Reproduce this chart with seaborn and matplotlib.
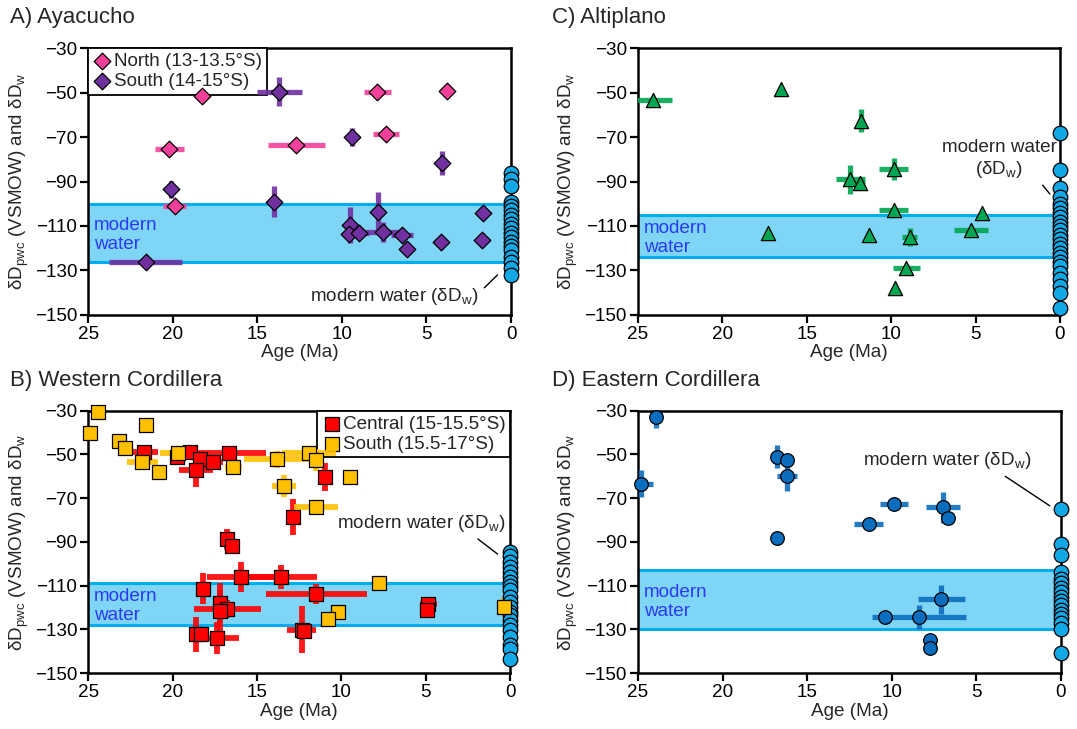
import matplotlib
matplotlib.use('Agg')

import numpy as np
import pandas as pd
import matplotlib.pyplot as plt
import seaborn as sns

# -------------------------------
# Data
# -------------------------------
# A) Ayacucho
a_north_age = [18.3, 20.2, 19.9, 12.7, 7.9, 3.8, 7.4]
a_north_dd = [-51.4, -75.4, -100.9, -73.6, -49.8, -49.3, -68.7]
a_north_xerr = [0.3, 0.85, 0.7, 1.7, 0.8, 0, 0.75]
a_north_yerr = [1.5, 0, 0, 0, 0, 0, 0]

a_south_age = [13.7, 20.1, 14.0, 21.6, 9.4, 4.1, 7.85, 9.5, 9.57, 9.0, 7.55, 6.47, 6.17, 4.16, 1.64, 1.7]
a_south_dd = [-49.6, -93.5, -99.1, -126.0, -69.9, -81.5, -103.8, -109.6, -113.6, -113.0, -112.5, -114.0, -120.3, -117.0, -104.3, -116.3]
a_south_xerr = [1.35, 0, 0, 2.15, 0, 0, 0, 0, 0, 0.6, 1.3, 0.65, 0, 0, 0, 0]
a_south_yerr = [6.4, 3.9, 6.9, 0, 4.0, 5.4, 9.0, 8.2, 0, 0, 4.5, 0, 0, 0, 0, 0]

a_water = [-86, -89, -92, -99, -101, -103, -105, -107, -109, -111, -113, -115, -117, -119, -121, -124, -126, -129, -132]
a_band = (-126, -100)

# B) Western Cordillera
b_central_age = [21.7, 19.0, 19.76, 18.4, 17.6, 16.66, 18.6, 10.97, 12.9, 16.76, 16.5, 15.95, 13.6, 18.2, 11.5,
                 17.2, 16.76, 17.2, 18.6, 18.3, 17.35, 12.35, 12.2, 4.85, 4.94]
b_central_dd = [-48.8, -48.8, -51.0, -52.3, -53.6, -49.5, -57.2, -60.2, -78.6, -88.9, -92.0, -106.0, -106.0, -111.4, -114.0,
                -117.8, -120.8, -121.8, -132.3, -132.3, -134.0, -130.1, -131.0, -118.2, -121.3]
b_central_xerr = [0.8, 0, 0, 0, 0.6, 2.2, 1.0, 0, 0, 0, 0, 2.0, 2.15, 0, 3.0,
                  0, 2.0, 0, 0, 0, 1.3, 0.85, 0, 0.5, 0]
b_central_yerr = [3, 0, 3, 0, 0, 3, 7.6, 6.5, 8.4, 5.0, 0, 7.0, 5.6, 7.0, 4.6,
                  8.8, 4, 10, 8, 0, 7.3, 10.7, 0, 2, 0]

b_south_age = [24.4, 24.9, 21.6, 23.2, 22.8, 21.8, 20.8, 19.7, 16.4, 13.8, 11.9, 11.5, 9.5, 13.4, 11.5, 7.75, 10.2, 10.77, 0.4]
b_south_dd = [-30.5, -40.4, -36.5, -43.7, -47.2, -53.6, -58.2, -49.2, -55.6, -52.3, -49.3, -52.5, -60.2, -64.5, -74.0,
              -108.6, -122.0, -125.4, -119.8]
b_south_xerr = [0, 0, 0, 0, 0, 0.9, 0, 1.05, 0.5, 2.0, 1.6, 0, 0, 0.7, 1.3, 0, 0, 0, 0]
b_south_yerr = [0, 0, 0, 0, 0, 2, 0, 0, 0, 4, 0, 5, 0, 5, 0, 0, 0, 3, 4]

b_water = [-94.6, -96.5, -99.2, -101.5, -103.8, -106, -108.4, -110, -112.1, -115.2, -117.5, -119.8, -122, -123.6,
           -125.9, -128.2, -130.5, -133.6, -137.3, -138.9, -143.4]
b_band = (-128, -109)

# C) Altiplano
c_age = [24.1, 16.55, 17.28, 11.79, 12.42, 11.83, 9.86, 9.86, 11.29, 8.91, 4.6, 5.28, 9.1, 9.76]
c_dd = [-53.3, -48.3, -113.3, -62.6, -89.0, -90.8, -84.5, -102.8, -114.0, -114.9, -104.0, -111.8, -129.0, -137.8]
c_xerr = [1.1, 0, 0, 0, 0.85, 0.3, 0.85, 0.85, 0, 0.45, 0, 1.0, 0.8, 0]
c_yerr = [0, 0, 0, 5.3, 6.4, 3.0, 4.9, 0, 0, 4.0, 0, 0, 0, 0]

c_water = [-68, -85, -93, -97, -100, -102, -104, -106, -108, -110, -112, -114, -116, -118, -120, -122, -124,
           -126, -128, -131, -134, -137, -140, -147]
c_band = (-124, -105)

# D) Eastern Cordillera
d_age = [23.96, 24.8, 16.8, 16.2, 16.2, 16.8, 9.86, 11.36, 6.96, 6.67, 7.06, 10.37, 8.38, 7.75, 7.75]
d_dd = [-32.7, -63.3, -51.0, -52.6, -59.9, -88.4, -72.7, -81.6, -74.2, -79.0, -116.3, -124.6, -124.4, -135.0, -138.4]
d_xerr = [0, 0.7, 0, 0, 0.6, 0, 0.84, 0.87, 1.0, 0, 1.4, 0, 2.8, 0, 0]
d_yerr = [5.3, 6, 5.3, 0, 6.9, 0, 0, 0, 7.2, 0, 6.5, 0, 5.3, 0, 0]

d_water = [-75, -91, -96, -104, -107, -109, -111, -113, -115, -117, -119, -121, -123, -125, -127, -130, -141]
d_band = (-130, -103)

x_ticks = [25, 20, 15, 10, 5, 0]
y_ticks = [-30, -50, -70, -90, -110, -130, -150]

# -------------------------------
# Style
# -------------------------------
sns.set_style("ticks")
plt.rcParams['font.family'] = ['Liberation Sans', 'DejaVu Sans']
plt.rcParams['mathtext.fontset'] = 'custom'
plt.rcParams['mathtext.rm'] = 'Liberation Sans'
plt.rcParams['mathtext.it'] = 'Liberation Sans'

FS = 13.6
BAND_FILL = '#7fd5f6'
BAND_EDGE = '#00aeef'
WATER_COL = '#12a8e6'
BLUE_TXT = '#2b3af2'

fig = plt.figure(figsize=(10.77, 7.29), dpi=100)
axA = fig.add_axes([0.082, 0.568, 0.3925, 0.366])
axC = fig.add_axes([0.5924, 0.568, 0.3918, 0.366])
axB = fig.add_axes([0.082, 0.0768, 0.3918, 0.3598])
axD = fig.add_axes([0.5924, 0.0768, 0.3925, 0.3598])


def setup(ax, band, water):
    ax.set_xlim(25, 0)
    ax.set_ylim(-150, -30)
    ax.set_xticks(x_ticks)
    ax.set_yticks(y_ticks)
    ax.tick_params(direction='out', length=6, width=1.6, labelsize=FS, colors='black', pad=2)
    for sp in ax.spines.values():
        sp.set_linewidth(1.8)
        sp.set_color('black')
    ax.set_xlabel("Age (Ma)", fontsize=FS, labelpad=1)
    ax.set_ylabel(r"δD$_{\mathrm{pwc}}$ (VSMOW) and δD$_{\mathrm{w}}$", fontsize=FS, labelpad=3)
    # modern water band
    ax.axhspan(band[0], band[1], color=BAND_FILL, lw=0, zorder=0)
    ax.axhline(band[0], color=BAND_EDGE, lw=2.2, zorder=0.5)
    ax.axhline(band[1], color=BAND_EDGE, lw=2.2, zorder=0.5)
    ax.text(24.65, (band[0] + band[1]) / 2 - 1, "modern\nwater", color=BLUE_TXT, fontsize=FS,
            ha='left', va='center', linespacing=1.15, zorder=1)
    # modern water samples on the right axis
    sns.scatterplot(x=np.zeros(len(water)), y=water, ax=ax, color=WATER_COL, edgecolor='black',
                    linewidth=0.9, s=110, marker='o', zorder=6, clip_on=False, legend=False)


def points(ax, age, dd, xerr, yerr, color, ecolor, marker, size, label=None, elw=3.8):
    ax.errorbar(age, dd, xerr=xerr, yerr=yerr, fmt='none', ecolor=ecolor, elinewidth=elw,
                capsize=0, alpha=0.9, zorder=5)
    df = pd.DataFrame({"age": age, "dd": dd})
    sns.scatterplot(data=df, x="age", y="dd", ax=ax, color=color, edgecolor='black', linewidth=0.9,
                    marker=marker, s=size, zorder=7, label=label, legend=False, clip_on=False)


# A) Ayacucho
setup(axA, a_band, a_water)
points(axA, a_north_age, a_north_dd, a_north_xerr, a_north_yerr, '#f4409b', '#f4409b', 'D', 72,
       label="North (13-13.5°S)")
points(axA, a_south_age, a_south_dd, a_south_xerr, a_south_yerr, '#7030a0', '#7030a0', 'D', 72,
       label="South (14-15°S)")
axA.annotate("modern water (δD$_{\\mathrm{w}}$)", xy=(0.8, -132), xytext=(1.95, -141.5),
             fontsize=FS, ha='right', va='center',
             arrowprops=dict(arrowstyle='-', lw=1, color='black', relpos=(1, 0.6), shrinkA=3, shrinkB=0))

# B) Western Cordillera
setup(axB, b_band, b_water)
points(axB, b_central_age, b_central_dd, b_central_xerr, b_central_yerr, '#ff0000', '#ff0000', 's', 100,
       label="Central (15-15.5°S)", elw=4.2)
points(axB, b_south_age, b_south_dd, b_south_xerr, b_south_yerr, '#ffc000', '#ffc000', 's', 95,
       label="South (15.5-17°S)", elw=4.2)
axB.annotate("modern water (δD$_{\\mathrm{w}}$)", xy=(0.75, -95.6), xytext=(5.3, -81.6),
             fontsize=FS, ha='center', va='center',
             arrowprops=dict(arrowstyle='-', lw=1, color='black', relpos=(0.8, 0), shrinkA=2, shrinkB=0))

# C) Altiplano
setup(axC, c_band, c_water)
points(axC, c_age, c_dd, c_xerr, c_yerr, '#00a651', '#00a651', '^', 105)
axC.annotate("modern water\n(δD$_{\\mathrm{w}}$)", xy=(0.6, -95.6), xytext=(3.6, -80),
             fontsize=FS, ha='center', va='center', linespacing=1.2,
             arrowprops=dict(arrowstyle='-', lw=1, color='black', relpos=(0.78, 0.2), shrinkA=2, shrinkB=0))

# D) Eastern Cordillera
setup(axD, d_band, d_water)
points(axD, d_age, d_dd, d_xerr, d_yerr, '#0b6dbd', '#0b6dbd', 'o', 96)
axD.annotate("modern water (δD$_{\\mathrm{w}}$)", xy=(0.65, -73.5), xytext=(6.7, -53),
             fontsize=FS, ha='center', va='center',
             arrowprops=dict(arrowstyle='-', lw=1, color='black', relpos=(0.8, 0), shrinkA=2, shrinkB=0))

# legends (drawn under the data marks, as in the original)
for ax, loc in [(axA, 'upper left'), (axB, 'upper right')]:
    leg = ax.legend(loc=loc, fontsize=FS, frameon=True, fancybox=False, borderaxespad=0,
                    handletextpad=0.1, handlelength=1.0, borderpad=0.25, labelspacing=0.15,
                    framealpha=1)
    leg.get_frame().set_edgecolor('black')
    leg.get_frame().set_linewidth(1.3)
    leg.set_zorder(4)

# panel titles
fig.text(10 / 1077, 1 - 18 / 729, "A) Ayacucho", fontsize=16, va='center')
fig.text(552 / 1077, 1 - 18 / 729, "C) Altiplano", fontsize=16, va='center')
fig.text(10 / 1077, 1 - 381 / 729, "B) Western Cordillera", fontsize=16, va='center')
fig.text(552 / 1077, 1 - 381 / 729, "D) Eastern Cordillera", fontsize=16, va='center')

fig.savefig("out.png", dpi=100)
